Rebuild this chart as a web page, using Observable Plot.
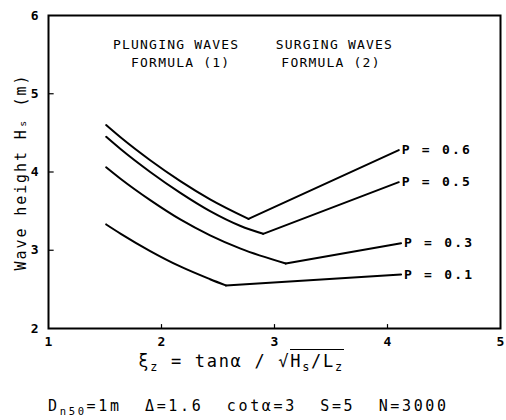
<!DOCTYPE html>
<html>
<head>
<meta charset="utf-8">
<script src="https://cdn.jsdelivr.net/npm/d3@7"></script>
<script src="https://cdn.jsdelivr.net/npm/@observablehq/plot@0.6"></script>
<style>
  body { margin: 0; background: #fff; width: 506px; height: 420px; position: relative; overflow: hidden; }
  #chart { position: absolute; left: 0; top: 0; }
  .mono { font-family: "DejaVu Sans Mono", monospace; color: #000; position: absolute; white-space: pre; }
  #xlab { left: 0; width: 482px; top: 350px; text-align: center; font-size: 17px; letter-spacing: 1.7px; line-height: 22px; }
  #caption { left: 48px; top: 396px; font-size: 15px; letter-spacing: 2.65px; line-height: 20px; }
  sub { font-size: 70%; vertical-align: -0.35em; line-height: 0; }
  .ov { border-top: 1.6px solid #000; padding-top: 1px; }
</style>
</head>
<body>
<div id="chart"></div>
<div id="xlab" class="mono">ξ<sub>z</sub> = tanα / √<span class="ov">H<sub>s</sub>/L<sub>z</sub></span></div>
<div id="caption" class="mono">D<sub>n50</sub>=1m  Δ=1.6  cotα=3  S=5  N=3000</div>
<script>
// ---- data ----
const seriesNames = ["P = 0.6", "P = 0.5", "P = 0.3", "P = 0.1"];

// plunging branch (curved), per series
const plungeX = {
  "P = 0.6": [1.51, 1.64, 1.90, 2.17, 2.43, 2.77],
  "P = 0.5": [1.51, 1.64, 1.90, 2.17, 2.43, 2.70, 2.90],
  "P = 0.3": [1.51, 1.64, 1.90, 2.17, 2.43, 2.70, 3.10],
  "P = 0.1": [1.51, 1.64, 1.90, 2.17, 2.43, 2.57]
};
const plungeY = {
  "P = 0.6": [4.60, 4.44, 4.15, 3.88, 3.65, 3.40],
  "P = 0.5": [4.45, 4.29, 4.00, 3.73, 3.50, 3.31, 3.21],
  "P = 0.3": [4.06, 3.91, 3.64, 3.39, 3.19, 3.02, 2.83],
  "P = 0.1": [3.33, 3.21, 2.99, 2.79, 2.63, 2.55]
};
// surging branch (straight), per series
const surgeX = {
  "P = 0.6": [2.77, 4.10],
  "P = 0.5": [2.90, 4.10],
  "P = 0.3": [3.10, 4.12],
  "P = 0.1": [2.57, 4.12]
};
const surgeY = {
  "P = 0.6": [3.40, 4.28],
  "P = 0.5": [3.21, 3.87],
  "P = 0.3": [2.83, 3.09],
  "P = 0.1": [2.55, 2.69]
};

const annotTexts = ["PLUNGING WAVES", "FORMULA (1)", "SURGING WAVES", "FORMULA (2)"];
const annotX = [2.13, 2.17, 3.53, 3.50];
const annotY = [5.62, 5.40, 5.62, 5.40];

const xDomain = [1, 5];
const yDomain = [2, 6];
const xTicks = [1, 2, 3, 4, 5];
const yTicks = [2, 3, 4, 5, 6];
const yLabel = "Wave height Hₛ (m)";

// ---- build tables ----
const plunge = seriesNames.flatMap(s => plungeX[s].map((x, i) => ({s, x, y: plungeY[s][i]})));
const surge = seriesNames.flatMap(s => surgeX[s].map((x, i) => ({s, x, y: surgeY[s][i]})));
const ends = seriesNames.map(s => ({s, x: surgeX[s][1], y: surgeY[s][1]}));
const annots = annotTexts.map((t, i) => ({t, x: annotX[i], y: annotY[i]}));
const innerX = xTicks.slice(1, -1);
const innerY = yTicks.slice(1, -1);

const font = "DejaVu Sans Mono";

const chart = Plot.plot({
  width: 506,
  height: 352,
  marginLeft: 48,
  marginRight: 6,
  marginTop: 15,
  marginBottom: 24,
  style: {fontFamily: font, color: "#000", background: "#fff"},
  x: {domain: xDomain},
  y: {domain: yDomain},
  marks: [
    Plot.frame({stroke: "#000", strokeWidth: 2}),
    Plot.axisX({ticks: xTicks, tickSize: 0, tickPadding: 8, fontSize: 13, fontWeight: "bold", label: null, tickFormat: d => String(d)}),
    Plot.axisY({ticks: yTicks, tickSize: 0, tickPadding: 10, fontSize: 13, fontWeight: "bold", label: null, tickFormat: d => String(d)}),
    // small inward ticks
    Plot.ruleX(innerX, {x: d => d, y1: yDomain[0], y2: yDomain[0] + 0.05, stroke: "#000", strokeWidth: 1.2}),
    Plot.ruleY(innerY, {y: d => d, x1: xDomain[0], x2: xDomain[0] + 0.05, stroke: "#000", strokeWidth: 1.2}),
    Plot.line(plunge, {x: "x", y: "y", z: "s", curve: "monotone-x", stroke: "#000", strokeWidth: 2}),
    Plot.line(surge, {x: "x", y: "y", z: "s", stroke: "#000", strokeWidth: 2}),
    Plot.text(ends, {x: "x", y: "y", text: "s", textAnchor: "start", dx: 3, fontSize: 13, fontWeight: "bold", fill: "#000"}),
    Plot.text(annots, {x: "x", y: "y", text: "t", fontSize: 13, fill: "#000"}),
    Plot.text([yLabel], {text: d => d, frameAnchor: "left", textAnchor: "middle", dx: -27, dy: 0, rotate: -90, fontSize: 15, fill: "#000"})
  ]
});

document.getElementById("chart").appendChild(chart);
// letter spacing to mimic the plotter font
d3.select(chart).selectAll("text").each(function() {
  const t = this.textContent;
  const sel = d3.select(this);
  if (seriesNames.includes(t)) sel.style("letter-spacing", "2.2px").style("white-space", "pre");
  else if (annotTexts.includes(t)) sel.style("letter-spacing", "1.2px").style("white-space", "pre");
  else if (t === yLabel) sel.style("letter-spacing", "1.9px");
});
</script>
</body>
</html>
